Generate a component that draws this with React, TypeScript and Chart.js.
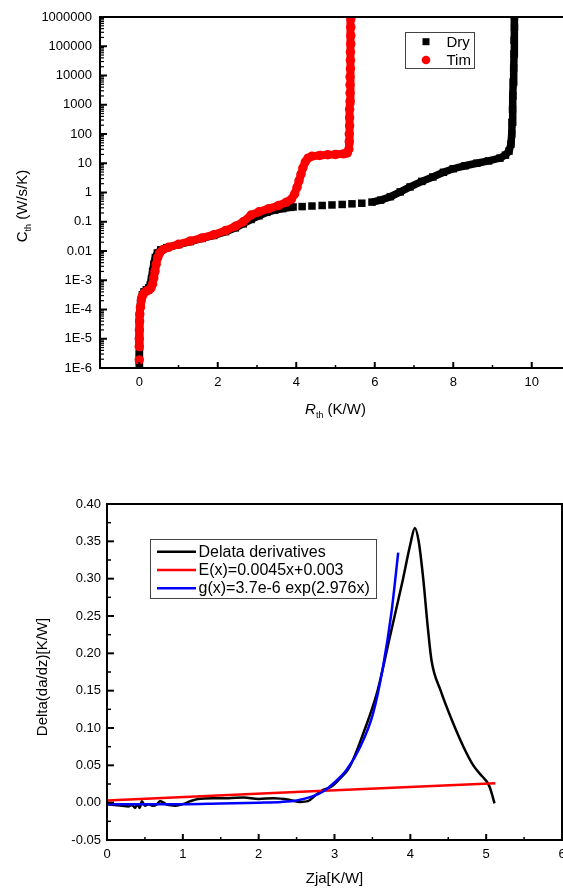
import React, { useEffect, useRef } from 'react';
import { Chart, registerables } from 'chart.js';

Chart.register(...registerables);

const FONT = '"Liberation Sans", Arial, sans-serif';
const RED = '#ff0000';
const BLUE = '#0000ff';
const BLACK = '#000000';

// ---------- Top chart: Cth vs Rth ----------
const topXTicks = [0, 2, 4, 6, 8, 10];
const topXMinor = [1, 3, 5, 7, 9];
const topYTicks = [1e-6, 1e-5, 1e-4, 1e-3, 1e-2, 1e-1, 1, 10, 100, 1000, 10000, 100000, 1000000];
const topYLabels = ['1E-6', '1E-5', '1E-4', '1E-3', '0.01', '0.1', '1', '10', '100', '1000', '10000', '100000', '1000000'];

const timR = [0, null, 0, 0, 0.003, 0.008, 0.015, 0.03, 0.05, 0.08, 0.12, 0.18, 0.25, 0.3, 0.34, 0.37, 0.4, 0.43, 0.47, 0.52, 0.6, 0.75, 1.0, 1.3, 1.6, 1.9, 2.2, 2.45, 2.65, 2.85, 3.05, 3.3, 3.55, 3.75, 3.88, 3.96, 4.02, 4.07, 4.12, 4.17, 4.23, 4.3, 4.4, 4.6, 4.8, 5.0, 5.2, 5.3, 5.34, 5.35, 5.35, 5.36, 5.36, 5.36, 5.37, 5.37, 5.37, 5.37, 5.38, 5.38, 5.38, 5.39, 5.39, 5.39, 5.39];
const timC = [1.9e-6, null, 5.4e-6, 1e-5, 2e-5, 4e-5, 7e-5, 1.2e-4, 2e-4, 2.9e-4, 3.6e-4, 4.2e-4, 4.7e-4, 5.5e-4, 7.5e-4, 1.2e-3, 2e-3, 3.5e-3, 6e-3, 8.5e-3, 0.011, 0.0135, 0.017, 0.022, 0.028, 0.036, 0.05, 0.07, 0.1, 0.17, 0.22, 0.28, 0.36, 0.47, 0.6, 0.9, 1.5, 2.5, 4.2, 7, 11, 15, 17.5, 18.5, 19.5, 20, 21, 22.5, 30, 55, 100, 190, 360, 700, 1300, 2500, 4800, 9000, 17000, 33000, 63000, 120000, 230000, 450000, 850000];

const dryR = [0, 0, 0, 0.003, 0.008, 0.015, 0.03, 0.05, 0.08, 0.12, 0.18, 0.24, 0.28, 0.31, 0.34, 0.37, 0.41, 0.46, 0.55, 0.7, 1.0, 1.3, 1.6, 1.9, 2.2, 2.45, 2.65, 2.85, 3.05, 3.25, 3.45, 3.65, 3.85, 3.92, null, 5.93, 6.15, 6.4, 6.65, 6.9, 7.2, 7.48, 7.75, 8.0, 8.3, 8.6, 8.9, 9.19, 9.33, 9.42, 9.47, 9.49, 9.5, 9.51, 9.52, 9.53, 9.54, 9.55, 9.55, 9.56, 9.56];
const dryC = [1.3e-6, 3e-6, 7e-6, 1.5e-5, 3.5e-5, 7e-5, 1.3e-4, 2.2e-4, 3.2e-4, 4e-4, 4.7e-4, 5.5e-4, 7e-4, 1.1e-3, 2e-3, 3.5e-3, 6e-3, 8.5e-3, 0.011, 0.013, 0.0165, 0.021, 0.027, 0.034, 0.046, 0.062, 0.085, 0.12, 0.16, 0.21, 0.25, 0.28, 0.31, 0.32, null, 0.47, 0.55, 0.72, 1.05, 1.55, 2.4, 3.4, 4.9, 6.5, 8.2, 10, 12, 15, 19, 26, 45, 100, 250, 700, 2000, 6000, 18000, 55000, 160000, 450000, 1000000];

const drySparseR = [4.15, 4.4, 4.66, 4.91, 5.17, 5.42, 5.67];
const drySparseC = [0.33, 0.345, 0.36, 0.375, 0.39, 0.41, 0.43];

// ---------- Bottom chart: Delta derivatives ----------
const botXTicks = [0, 1, 2, 3, 4, 5, 6];
const botXMinor = [0.5, 1.5, 2.5, 3.5, 4.5, 5.5];
const botYTicks = [-0.05, 0, 0.05, 0.1, 0.15, 0.2, 0.25, 0.3, 0.35, 0.4];
const botYLabels = ['-0.05', '0.00', '0.05', '0.10', '0.15', '0.20', '0.25', '0.30', '0.35', '0.40'];
const botYMinor = [-0.025, 0.025, 0.075, 0.125, 0.175, 0.225, 0.275, 0.325, 0.375];

const derivX = [0, 0.1, 0.2, 0.28, 0.33, 0.37, 0.4, 0.43, 0.46, 0.5, 0.55, 0.6, 0.65, 0.7, 0.75, 0.8, 0.9, 1.0, 1.1, 1.2, 1.4, 1.6, 1.8, 2.0, 2.2, 2.4, 2.55, 2.65, 2.75, 2.85, 2.95, 3.05, 3.2, 3.38, 3.56, 3.73, 3.9, 4.0, 4.06, 4.11, 4.17, 4.23, 4.28, 4.4, 4.55, 4.7, 4.83, 4.95, 5.01, 5.05, 5.08, 5.11];
const derivY = [-0.002, -0.003, -0.004, -0.005, -0.003, -0.007, -0.002, -0.007, 0.002, -0.004, -0.002, -0.004, -0.003, 0.002, 0.0, -0.003, -0.004, -0.002, 0.002, 0.005, 0.006, 0.006, 0.007, 0.005, 0.006, 0.004, 0.001, 0.002, 0.01, 0.017, 0.021, 0.03, 0.048, 0.093, 0.147, 0.222, 0.298, 0.346, 0.368, 0.35, 0.3, 0.235, 0.19, 0.15, 0.11, 0.075, 0.05, 0.035, 0.028, 0.02, 0.01, -0.001];

const linFitX = [0, 5.12];
const linFitY = [0.003, 0.026];

const expFitX = [0, 0.5, 1, 1.5, 2, 2.3, 2.5, 2.7, 2.85, 3.0, 3.16, 3.34, 3.51, 3.64, 3.75, 3.84];
const expFitY = [-0.002, -0.002, -0.002, -0.001, 0.0, 0.001, 0.003, 0.008, 0.015, 0.027, 0.044, 0.075, 0.12, 0.182, 0.254, 0.335];

const botLegend = [
  { label: 'Delata derivatives', color: BLACK },
  { label: 'E(x)=0.0045x+0.003', color: RED },
  { label: 'g(x)=3.7e-6 exp(2.976x)', color: BLUE },
];

function zip(xs: (number | null)[], ys: (number | null)[]) {
  return xs.map((x, i) => ({ x, y: ys[i] }));
}

type Part = { text: string; font: string; dy: number };

function drawRich(ctx: CanvasRenderingContext2D, parts: Part[], cx: number, baseline: number) {
  const widths = parts.map((p) => {
    ctx.font = p.font;
    return ctx.measureText(p.text).width;
  });
  const total = widths.reduce((a, b) => a + b, 0);
  let x = cx - total / 2;
  ctx.textAlign = 'left';
  ctx.textBaseline = 'alphabetic';
  parts.forEach((p, i) => {
    ctx.font = p.font;
    ctx.fillText(p.text, x, baseline + p.dy);
    x += widths[i];
  });
}

function seg(ctx: CanvasRenderingContext2D, x1: number, y1: number, x2: number, y2: number) {
  ctx.beginPath();
  ctx.moveTo(x1, y1);
  ctx.lineTo(x2, y2);
  ctx.stroke();
}

const topDecor = {
  id: 'topDecor',
  afterDraw(chart: any) {
    const { ctx, chartArea: a, scales } = chart;
    const x = scales.x;
    const y = scales.y;
    ctx.save();
    ctx.strokeStyle = BLACK;
    ctx.fillStyle = BLACK;
    // ticks (inward)
    ctx.lineWidth = 2;
    topXTicks.forEach((v) => { const p = x.getPixelForValue(v); seg(ctx, p, a.bottom, p, a.bottom - 6); });
    ctx.lineWidth = 1.5;
    topXMinor.forEach((v) => { const p = x.getPixelForValue(v); seg(ctx, p, a.bottom, p, a.bottom - 3); });
    ctx.lineWidth = 2;
    topYTicks.forEach((v) => { const p = y.getPixelForValue(v); seg(ctx, a.left, p, a.left + 7, p); });
    ctx.lineWidth = 1.2;
    for (let d = 0; d < topYTicks.length - 1; d++) {
      for (let k = 2; k <= 9; k++) {
        const p = y.getPixelForValue(topYTicks[d] * k);
        seg(ctx, a.left, p, a.left + 4, p);
      }
    }
    // frame
    ctx.lineWidth = 2;
    ctx.strokeRect(a.left, a.top, a.right - a.left, a.bottom - a.top);
    // legend
    ctx.lineWidth = 1;
    ctx.strokeStyle = '#444';
    ctx.strokeRect(405.5, 32.5, 69, 36);
    ctx.fillStyle = BLACK;
    ctx.fillRect(426 - 3.5, 41.7 - 3.5, 7, 7);
    ctx.fillStyle = RED;
    ctx.beginPath();
    ctx.arc(426, 60, 4.3, 0, Math.PI * 2);
    ctx.fill();
    ctx.fillStyle = BLACK;
    ctx.font = `15px ${FONT}`;
    ctx.textAlign = 'left';
    ctx.textBaseline = 'alphabetic';
    ctx.fillText('Dry', 446.5, 46.8);
    ctx.fillText('Tim', 446.5, 65);
    // axis titles
    drawRich(ctx, [
      { text: 'R', font: `italic 15px ${FONT}`, dy: 0 },
      { text: 'th', font: `9px ${FONT}`, dy: 4 },
      { text: ' (K/W)', font: `15px ${FONT}`, dy: 0 },
    ], (a.left + a.right) / 2, 414);
    ctx.save();
    ctx.translate(27, 206);
    ctx.rotate(-Math.PI / 2);
    drawRich(ctx, [
      { text: 'C', font: `15px ${FONT}`, dy: 0 },
      { text: 'th', font: `9px ${FONT}`, dy: 4 },
      { text: ' (W/s/K)', font: `15px ${FONT}`, dy: 0 },
    ], 0, 0);
    ctx.restore();
    ctx.restore();
  },
};

const botDecor = {
  id: 'botDecor',
  afterDraw(chart: any) {
    const { ctx, chartArea: a, scales } = chart;
    const x = scales.x;
    const y = scales.y;
    ctx.save();
    ctx.strokeStyle = BLACK;
    ctx.fillStyle = BLACK;
    ctx.lineWidth = 2;
    botXTicks.forEach((v) => { const p = x.getPixelForValue(v); seg(ctx, p, a.bottom, p, a.bottom - 6); });
    botYTicks.forEach((v) => { const p = y.getPixelForValue(v); seg(ctx, a.left, p, a.left + 7, p); });
    ctx.lineWidth = 1.5;
    botXMinor.forEach((v) => { const p = x.getPixelForValue(v); seg(ctx, p, a.bottom, p, a.bottom - 3); });
    botYMinor.forEach((v) => { const p = y.getPixelForValue(v); seg(ctx, a.left, p, a.left + 4, p); });
    ctx.lineWidth = 2;
    ctx.strokeRect(a.left, a.top, a.right - a.left, a.bottom - a.top);
    // legend
    ctx.lineWidth = 1;
    ctx.strokeStyle = '#444';
    ctx.strokeRect(150.5, 69.5, 226, 59);
    botLegend.forEach((item, i) => {
      const ly = 81.7 + i * 18.3;
      ctx.strokeStyle = item.color;
      ctx.lineWidth = 2.5;
      seg(ctx, 157, ly, 196, ly);
      ctx.fillStyle = BLACK;
      ctx.font = `16px ${FONT}`;
      ctx.textAlign = 'left';
      ctx.textBaseline = 'alphabetic';
      ctx.fillText(item.label, 198.5, ly + 4.8);
    });
    // titles
    ctx.fillStyle = BLACK;
    drawRich(ctx, [{ text: 'Zja[K/W]', font: `15px ${FONT}`, dy: 0 }], (a.left + a.right) / 2, 413);
    ctx.save();
    ctx.translate(47, 207);
    ctx.rotate(-Math.PI / 2);
    drawRich(ctx, [{ text: 'Delta(da/dz)[K/W]', font: `15px ${FONT}`, dy: 0 }], 0, 0);
    ctx.restore();
    ctx.restore();
  },
};

const tickFont = { family: FONT, size: 13 };

function buildTop(): any {
  return {
    type: 'scatter',
    data: {
      datasets: [
        {
          label: 'Tim', data: zip(timR, timC), showLine: true, spanGaps: false,
          borderColor: RED, borderWidth: 8, backgroundColor: RED,
          pointBackgroundColor: RED, pointBorderWidth: 0, pointRadius: 4.7, pointStyle: 'circle', order: 1,
        },
        {
          label: 'Dry', data: zip(dryR, dryC), showLine: true, spanGaps: false,
          borderColor: BLACK, borderWidth: 7.5, backgroundColor: BLACK,
          pointBackgroundColor: BLACK, pointBorderWidth: 0, pointRadius: 5.3, pointStyle: 'rect', order: 2,
        },
        {
          label: 'Dry', data: zip(drySparseR, drySparseC), showLine: false,
          backgroundColor: BLACK, pointBackgroundColor: BLACK, pointBorderWidth: 0,
          pointRadius: 5.3, pointStyle: 'rect', order: 3,
        },
      ],
    },
    options: {
      animation: false, responsive: false, devicePixelRatio: 1,
      layout: { padding: { left: 0, top: 17, right: 29, bottom: 0 } },
      plugins: { legend: { display: false }, tooltip: { enabled: false } },
      scales: {
        x: {
          type: 'linear', min: -1, max: 11,
          grid: { display: false, drawTicks: false }, border: { display: false },
          ticks: { font: tickFont, color: BLACK, padding: 7, autoSkip: false, maxRotation: 0, callback: (v: number, i: number) => String(topXTicks[i]) },
          afterBuildTicks: (s: any) => { s.ticks = topXTicks.map((v) => ({ value: v })); },
          afterFit: (s: any) => { s.height = 62; },
        },
        y: {
          type: 'logarithmic', min: 1e-6, max: 1e6,
          grid: { display: false, drawTicks: false }, border: { display: false },
          ticks: { font: tickFont, color: BLACK, padding: 8, autoSkip: false, callback: (v: number, i: number) => topYLabels[i] },
          afterBuildTicks: (s: any) => { s.ticks = topYTicks.map((v) => ({ value: v })); },
          afterFit: (s: any) => { s.width = 100; },
        },
      },
    },
    plugins: [topDecor],
  };
}

function buildBottom(): any {
  const line = (data: any, color: string, order: number) => ({
    data, showLine: true, borderColor: color, backgroundColor: color, borderWidth: 2.5,
    pointRadius: 0, cubicInterpolationMode: 'monotone', order,
  });
  return {
    type: 'scatter',
    data: {
      datasets: [
        { label: botLegend[0].label, ...line(zip(derivX, derivY), BLACK, 3) },
        { label: botLegend[1].label, ...line(zip(linFitX, linFitY), RED, 2) },
        { label: botLegend[2].label, ...line(zip(expFitX, expFitY), BLUE, 1) },
      ],
    },
    options: {
      animation: false, responsive: false, devicePixelRatio: 1,
      layout: { padding: { left: 0, top: 34, right: 38, bottom: 0 } },
      plugins: { legend: { display: false }, tooltip: { enabled: false } },
      scales: {
        x: {
          type: 'linear', min: 0, max: 6,
          grid: { display: false, drawTicks: false }, border: { display: false },
          ticks: { font: tickFont, color: BLACK, padding: 7, autoSkip: false, maxRotation: 0, callback: (v: number, i: number) => String(botXTicks[i]) },
          afterBuildTicks: (s: any) => { s.ticks = botXTicks.map((v) => ({ value: v })); },
          afterFit: (s: any) => { s.height = 48; },
        },
        y: {
          type: 'linear', min: -0.05, max: 0.4,
          grid: { display: false, drawTicks: false }, border: { display: false },
          ticks: { font: tickFont, color: BLACK, padding: 6, autoSkip: false, callback: (v: number, i: number) => botYLabels[i] },
          afterBuildTicks: (s: any) => { s.ticks = botYTicks.map((v) => ({ value: v })); },
          afterFit: (s: any) => { s.width = 107; },
        },
      },
    },
    plugins: [botDecor],
  };
}

function ChartBox({ top, width, height, build }: { top: number; width: number; height: number; build: () => any }) {
  const ref = useRef<HTMLCanvasElement>(null);
  useEffect(() => {
    const chart = new Chart(ref.current as HTMLCanvasElement, build());
    return () => chart.destroy();
  }, []);
  return (
    <canvas
      ref={ref}
      width={width}
      height={height}
      style={{ position: 'absolute', left: 0, top, width, height, display: 'block' }}
    />
  );
}

export default function App() {
  return (
    <div style={{ position: 'fixed', left: 0, top: 0, width: 563, height: 888, overflow: 'hidden', background: '#ffffff' }}>
      <ChartBox top={0} width={600} height={430} build={buildTop} />
      <ChartBox top={470} width={600} height={418} build={buildBottom} />
    </div>
  );
}
